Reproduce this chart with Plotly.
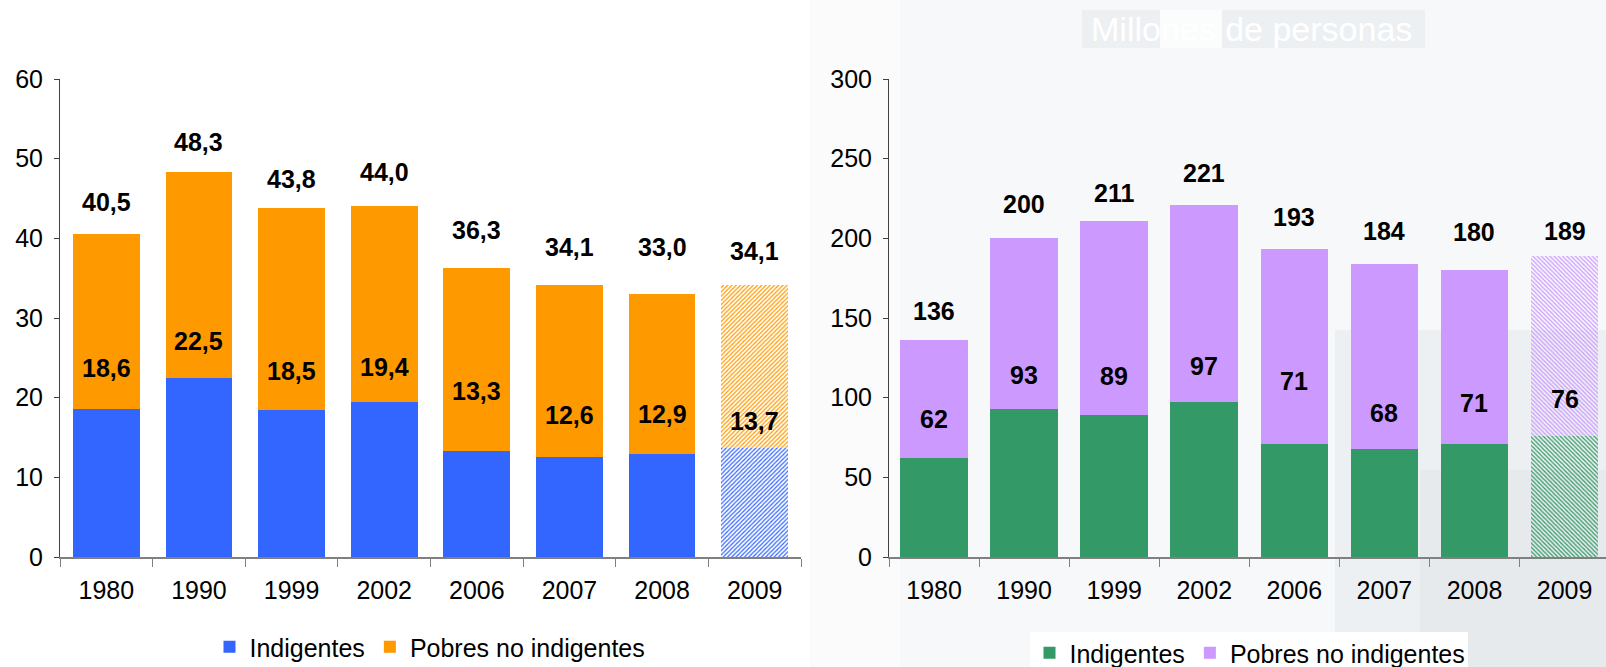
import plotly.graph_objects as go

# ---------------- data ----------------
years = ["1980", "1990", "1999", "2002", "2006", "2007", "2008", "2009"]

# Left panel: percentages
pct_indigentes = [18.6, 22.5, 18.5, 19.4, 13.3, 12.6, 12.9, 13.7]
pct_total_pobres = [40.5, 48.3, 43.8, 44.0, 36.3, 34.1, 33.0, 34.1]

# Right panel: millions of people
mill_indigentes = [62, 93, 89, 97, 71, 68, 71, 76]
mill_total_pobres = [136, 200, 211, 221, 193, 184, 180, 189]

series_names = ["Indigentes", "Pobres no indigentes"]
right_title = "Millones de personas"

# ---------------- styling / layout (not data) ----------------
W, H = 1606, 667
FONT = "Liberation Sans, Arial, sans-serif"
BLUE, ORANGE = "#3366FF", "#FF9900"
GREEN, PURPLE = "#339966", "#CC99FF"

# pixel lifts for value labels (as placed in the original)
left_total_lift = [32, 30, 29, 34, 38, 38, 47, 34]
left_inner_lift = [41, 37, 39, 35, 60, 42, 40, 27]
right_total_lift = [29, 34, 28, 32, 32, 33, 38, 25]
right_inner_lift = [39, 34, 39, 36, 63, 36, 41, 37]

projected = [False] * 7 + [True]


def fmt(v, dec):
    return f"{v:.{dec}f}".replace(".", ",")


def pattern(fg, shape):
    return dict(
        shape=[shape if p else "" for p in projected],
        fgcolor=fg,
        bgcolor="rgba(255,255,255,0)",
        size=3,
        solidity=0.4,
        fillmode="replace",
    )


pct_pobres_no = [round(t - i, 1) for t, i in zip(pct_total_pobres, pct_indigentes)]
mill_pobres_no = [t - i for t, i in zip(mill_total_pobres, mill_indigentes)]

fig = go.Figure()

fig.add_trace(go.Bar(
    x=years, y=pct_indigentes, name=series_names[0], width=0.72,
    marker=dict(color=BLUE, line=dict(width=0), pattern=pattern(BLUE, "/")),
    xaxis="x", yaxis="y", legend="legend", hoverinfo="x+y",
))
fig.add_trace(go.Bar(
    x=years, y=pct_pobres_no, name=series_names[1], width=0.72,
    marker=dict(color=ORANGE, line=dict(width=0), pattern=pattern(ORANGE, "/")),
    xaxis="x", yaxis="y", legend="legend", hoverinfo="x+y",
))
fig.add_trace(go.Bar(
    x=years, y=mill_indigentes, name=series_names[0], width=0.75,
    marker=dict(color=GREEN, line=dict(width=0), pattern=pattern(GREEN, "\\")),
    xaxis="x2", yaxis="y2", legend="legend2", hoverinfo="x+y",
))
fig.add_trace(go.Bar(
    x=years, y=mill_pobres_no, name=series_names[1], width=0.75,
    marker=dict(color=PURPLE, line=dict(width=0), pattern=pattern(PURPLE, "\\")),
    xaxis="x2", yaxis="y2", legend="legend2", hoverinfo="x+y",
))

annotations = []
label_font = dict(family=FONT, size=25, color="black")
for i, yr in enumerate(years):
    annotations.append(dict(x=i, y=pct_total_pobres[i], xref="x", yref="y",
                            text=f"<b>{fmt(pct_total_pobres[i], 1)}</b>", showarrow=False,
                            yshift=left_total_lift[i], font=label_font))
    annotations.append(dict(x=i, y=pct_indigentes[i], xref="x", yref="y",
                            text=f"<b>{fmt(pct_indigentes[i], 1)}</b>", showarrow=False,
                            yshift=left_inner_lift[i], font=label_font))
    annotations.append(dict(x=i, y=mill_total_pobres[i], xref="x2", yref="y2",
                            text=f"<b>{mill_total_pobres[i]}</b>", showarrow=False,
                            yshift=right_total_lift[i], font=label_font))
    annotations.append(dict(x=i, y=mill_indigentes[i], xref="x2", yref="y2",
                            text=f"<b>{mill_indigentes[i]}</b>", showarrow=False,
                            yshift=right_inner_lift[i], font=label_font))

annotations.append(dict(x=1251 / W, y=1 - 29 / H, xref="paper", yref="paper",
                        xanchor="center", yanchor="middle",
                        text=right_title, showarrow=False,
                        font=dict(family=FONT, size=34, color="white")))


def prect(x0, x1, y0, y1, color):
    # pixel box (top-left origin) -> paper shape
    return dict(type="rect", xref="paper", yref="paper", x0=x0 / W, x1=x1 / W,
                y0=1 - y1 / H, y1=1 - y0 / H, fillcolor=color, line=dict(width=0),
                layer="below")


# faint photographic-like background on the right half
shapes = [
    prect(810, 1606, 0, 667, "#f7f8f9"),
    prect(810, 900, 0, 667, "#fbfbfc"),
    prect(1082, 1160, 10, 48, "#edf0f2"),
    prect(1222, 1425, 10, 48, "#edf0f2"),
    prect(1160, 1222, 10, 48, "#fbfcfc"),
    prect(1335, 1606, 330, 667, "#edf0f2"),
    prect(1420, 1606, 470, 667, "#e6eaed"),
    prect(1030, 1468, 632, 667, "#ffffff"),
]

y_dom = [1 - 557 / H, 1 - 79 / H]
tickfont = dict(family=FONT, size=25, color="black")
xax_common = dict(type="category", tickson="boundaries", ticks="outside", ticklen=8,
                  tickwidth=1, tickcolor="#808080", showline=True, linecolor="#808080",
                  linewidth=2, showgrid=False, zeroline=False, tickfont=tickfont,
                  ticklabelstandoff=10, automargin=False)
yax_common = dict(ticks="outside", ticklen=5, tickwidth=1, tickcolor="#404040",
                  showline=True, linecolor="#404040", linewidth=1, showgrid=False,
                  zeroline=False, tickfont=tickfont, ticklabelstandoff=6, automargin=False)

fig.update_layout(
    template="none",
    width=W, height=H,
    margin=dict(l=0, r=0, t=0, b=0, autoexpand=False),
    paper_bgcolor="white", plot_bgcolor="rgba(0,0,0,0)",
    barmode="stack", showlegend=True,
    font=dict(family=FONT, size=25, color="black"),
    xaxis=dict(domain=[60 / W, 801 / W], range=[-0.5, 7.5], anchor="y", **xax_common),
    yaxis=dict(domain=y_dom, range=[0, 60], dtick=10, anchor="x", **yax_common),
    xaxis2=dict(domain=[889 / W, 1.0], range=[-0.5, 7.46], anchor="y2", **xax_common),
    yaxis2=dict(domain=y_dom, range=[0, 300], dtick=50, anchor="x2", **yax_common),
    legend=dict(orientation="h", x=430 / W, y=1 - 647 / H, xanchor="center", yanchor="middle",
                font=dict(family=FONT, size=25), bgcolor="rgba(0,0,0,0)", traceorder="normal",
                itemwidth=30, tracegroupgap=0),
    legend2=dict(orientation="h", x=1250 / W, y=1 - 653 / H, xanchor="center", yanchor="middle",
                 font=dict(family=FONT, size=25), bgcolor="rgba(0,0,0,0)", traceorder="normal",
                 itemwidth=30, tracegroupgap=0),
    annotations=annotations,
    shapes=shapes,
)

fig.write_html(
    "out.html",
    config={"displayModeBar": False},
    post_script="document.body.style.margin='0';document.body.style.overflow='hidden';",
)
